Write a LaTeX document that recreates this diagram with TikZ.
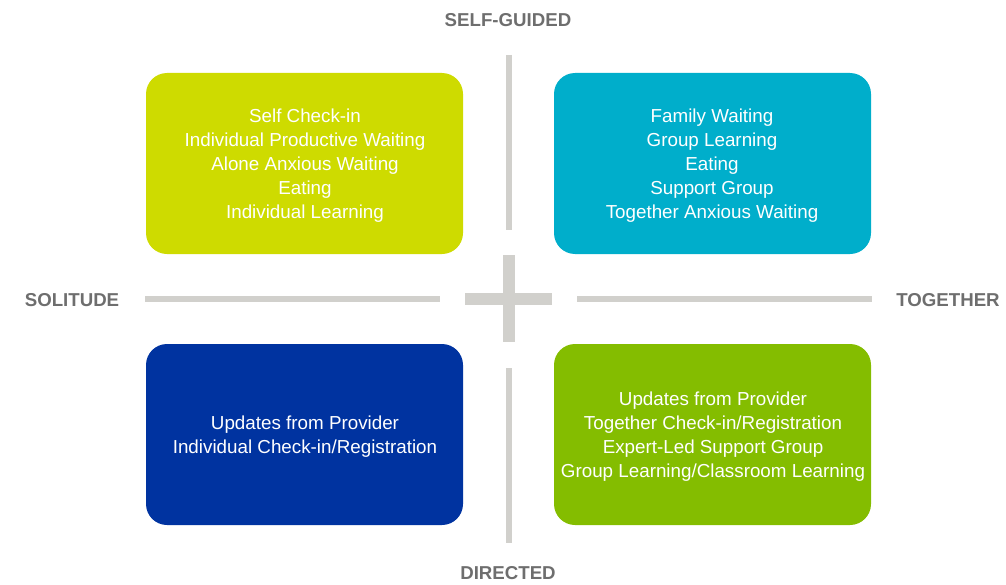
\documentclass[tikz,border=0pt]{standalone}
\usepackage{fontspec}
\setmainfont{Liberation Sans}
\definecolor{cYellow}{HTML}{CEDB00}
\definecolor{cCyan}{HTML}{00AECB}
\definecolor{cNavy}{HTML}{0033A0}
\definecolor{cGreen}{HTML}{84BD00}
\definecolor{cLine}{HTML}{D1D0CC}
\definecolor{cLabel}{HTML}{6E6E6E}
\tikzset{
  quad/.style={rectangle, rounded corners=15.75pt, minimum width=237.75pt, minimum height=135.75pt,
    inner sep=0pt, align=center, text=white, font=\fontsize{14.1}{18}\selectfont},
  qtext/.style={inner sep=0pt, align=center, text=white, font=\fontsize{14.1}{18}\selectfont},
  axislabel/.style={text=cLabel, font=\bfseries\fontsize{14}{16}\selectfont, inner sep=0pt},
  axisline/.style={cLine, line width=4.5pt},
}
\begin{document}
\begin{tikzpicture}[x=0.75pt,y=-0.75pt]
\useasboundingbox (0,0) rectangle (1006,585);
% axis lines
\draw[axisline] (509,55) -- (509,230);
\draw[axisline] (509,368) -- (509,543);
\draw[axisline] (145,299) -- (440,299);
\draw[axisline] (577,299) -- (872,299);
% cross
\fill[cLine] (465,293) rectangle (552,305);
\fill[cLine] (503,255) rectangle (515,342);
% boxes
\node[quad, fill=cYellow] (sg) at (304.5,163.5) {};
\node[quad, fill=cCyan] (tg) at (712.5,163.5) {};
\node[quad, fill=cNavy] (sd) at (304.5,434.5) {};
\node[quad, fill=cGreen] (td) at (712.5,434.5) {};
\node[qtext] (sgt) at (305,166) {Self Check-in\\Individual Productive Waiting\\Alone Anxious Waiting\\Eating\\Individual Learning};
\node[qtext] (tgt) at (712,166) {Family Waiting\\Group Learning\\Eating\\Support Group\\Together Anxious Waiting};
\node[qtext] (sdt) at (305,437) {Updates from Provider\\Individual Check-in/Registration};
\node[qtext] (tdt) at (713,437) {Updates from Provider\\Together Check-in/Registration\\Expert-Led Support Group\\Group Learning/Classroom Learning};
% labels
\node[axislabel] (self) at (508,20) {SELF-GUIDED};
\node[axislabel] (dir) at (508,573) {DIRECTED};
\node[axislabel] (sol) at (72,300) {SOLITUDE};
\node[axislabel] (tog) at (948,300) {TOGETHER};
\end{tikzpicture}
\end{document}
